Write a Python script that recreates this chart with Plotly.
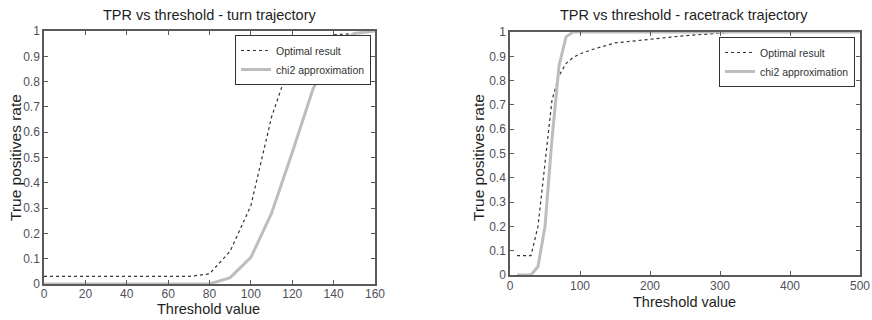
import plotly.graph_objects as go

# Left: turn trajectory
turn_x_opt = [0, 10, 20, 30, 40, 50, 60, 70, 80, 90, 100, 110, 120, 130, 140, 150, 160]
turn_y_opt = [0.03, 0.03, 0.03, 0.03, 0.03, 0.03, 0.03, 0.03, 0.04, 0.13, 0.31, 0.66, 0.90, 0.97, 0.985, 0.99, 1.0]
turn_x_chi = [0, 10, 20, 30, 40, 50, 60, 70, 80, 90, 100, 110, 120, 130, 140, 150, 160]
turn_y_chi = [0, 0, 0, 0, 0, 0, 0, 0, 0, 0.025, 0.105, 0.28, 0.52, 0.77, 0.93, 0.99, 1.0]

# Right: racetrack trajectory
race_x_opt = [10, 20, 30, 40, 50, 60, 70, 80, 90, 100, 120, 150, 200, 250, 300, 320]
race_y_opt = [0.08, 0.08, 0.08, 0.20, 0.45, 0.72, 0.82, 0.87, 0.895, 0.91, 0.93, 0.955, 0.97, 0.985, 0.995, 1.0]
race_x_chi = [10, 20, 30, 40, 50, 60, 70, 80, 90, 100, 200, 300, 400, 500]
race_y_chi = [0, 0, 0, 0.035, 0.2, 0.56, 0.86, 0.98, 1.0, 1.0, 1.0, 1.0, 1.0, 1.0]

titles = ["TPR vs threshold - turn trajectory", "TPR vs threshold - racetrack trajectory"]
x_title = "Threshold value"
y_title = "True positives rate"
legend_names = ["Optimal result", "chi2 approximation"]
turn_x_ticks = [0, 20, 40, 60, 80, 100, 120, 140, 160]
race_x_ticks = [0, 100, 200, 300, 400, 500]
y_ticks = [0, 0.1, 0.2, 0.3, 0.4, 0.5, 0.6, 0.7, 0.8, 0.9, 1]
y_ticktext = ["0", "0.1", "0.2", "0.3", "0.4", "0.5", "0.6", "0.7", "0.8", "0.9", "1"]

FONT = "Liberation Sans, Arial, sans-serif"
DOT_COLOR = "#333333"
CHI_COLOR = "#bdbdbd"
TXT = "#1e1e1e"
TICK_TXT = "#50505a"

fig = go.Figure()
fig.add_trace(go.Scatter(x=turn_x_opt, y=turn_y_opt, mode="lines", name=legend_names[0],
                         line=dict(color=DOT_COLOR, width=1.2, dash="dot"), xaxis="x", yaxis="y", legend="legend"))
fig.add_trace(go.Scatter(x=turn_x_chi, y=turn_y_chi, mode="lines", name=legend_names[1],
                         line=dict(color=CHI_COLOR, width=3), xaxis="x", yaxis="y", legend="legend"))
fig.add_trace(go.Scatter(x=race_x_opt, y=race_y_opt, mode="lines", name=legend_names[0],
                         line=dict(color=DOT_COLOR, width=1.2, dash="dot"), xaxis="x2", yaxis="y2", legend="legend2"))
fig.add_trace(go.Scatter(x=race_x_chi, y=race_y_chi, mode="lines", name=legend_names[1],
                         line=dict(color=CHI_COLOR, width=3), xaxis="x2", yaxis="y2", legend="legend2"))

axis_common = dict(showline=True, linecolor="#5a5a5a", linewidth=1.5, mirror="allticks",
                   ticks="inside", ticklen=4, tickcolor="#5a5a5a", showgrid=False, zeroline=False,
                   automargin=False, tickfont=dict(family=FONT, size=12, color=TICK_TXT))

W, H = 872, 320
L1, R1, T1, B1 = 44, 375, 31, 284
L2, R2, T2, B2 = 510, 860, 32, 275

legend_common = dict(xanchor="right", yanchor="top", bgcolor="white", bordercolor="#333333", borderwidth=1,
                     font=dict(family=FONT, size=10.5, color="#333333"), tracegroupgap=0, itemwidth=30)

fig.update_layout(
    width=W, height=H, margin=dict(l=0, r=0, t=0, b=0, pad=0, autoexpand=False),
    paper_bgcolor="white", plot_bgcolor="white",
    font=dict(family=FONT, color=TXT),
    xaxis=dict(domain=[L1 / W, R1 / W], range=[0, 160], tickvals=turn_x_ticks, anchor="y",
               ticklabelstandoff=-2, **axis_common),
    yaxis=dict(domain=[1 - B1 / H, 1 - T1 / H], range=[0, 1], tickvals=y_ticks, ticktext=y_ticktext, anchor="x",
               **axis_common),
    xaxis2=dict(domain=[L2 / W, R2 / W], range=[0, 500], tickvals=race_x_ticks, anchor="y2",
                ticklabelstandoff=-1, **axis_common),
    yaxis2=dict(domain=[1 - B2 / H, 1 - T2 / H], range=[0, 1], tickvals=y_ticks, ticktext=y_ticktext, anchor="x2",
                **axis_common),
    legend=dict(x=371 / W, y=1 - 35 / H, **legend_common),
    legend2=dict(x=855 / W, y=1 - 37 / H, **legend_common),
    showlegend=True,
)

annotations = [
    dict(text=titles[0], x=(L1 + R1) / 2 / W, y=1 - 15 / H, xref="paper", yref="paper",
         showarrow=False, font=dict(size=14.5, family=FONT, color=TXT), xanchor="center", yanchor="middle"),
    dict(text=titles[1], x=684 / W, y=1 - 15 / H, xref="paper", yref="paper",
         showarrow=False, font=dict(size=14.5, family=FONT, color=TXT), xanchor="center", yanchor="middle"),
    dict(text=x_title, x=208 / W, y=1 - 309 / H, xref="paper", yref="paper",
         showarrow=False, font=dict(size=14.5, family=FONT, color=TXT), xanchor="center", yanchor="middle"),
    dict(text=x_title, x=684 / W, y=1 - 302 / H, xref="paper", yref="paper",
         showarrow=False, font=dict(size=14.5, family=FONT, color=TXT), xanchor="center", yanchor="middle"),
    dict(text=y_title, x=15 / W, y=1 - 158 / H, xref="paper", yref="paper", textangle=-90,
         showarrow=False, font=dict(size=15.5, family=FONT, color=TXT), xanchor="center", yanchor="middle"),
    dict(text=y_title, x=478 / W, y=1 - 158 / H, xref="paper", yref="paper", textangle=-90,
         showarrow=False, font=dict(size=15.5, family=FONT, color=TXT), xanchor="center", yanchor="middle"),
]
fig.update_layout(annotations=annotations)

fig.write_html("out.html", config=dict(displayModeBar=False),
               post_script="document.body.style.margin='0';document.body.style.padding='0';"
                           "document.documentElement.style.overflow='hidden';")
